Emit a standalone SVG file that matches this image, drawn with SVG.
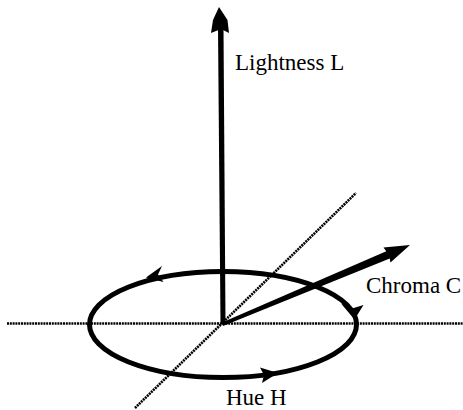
<svg xmlns="http://www.w3.org/2000/svg" width="463" height="410" viewBox="0 0 463 410">
  <style>
    .dot { stroke: #000; stroke-width: 2.6; stroke-dasharray: 2 0.8; fill: none; }
    .thick { stroke: #000; fill: none; stroke-width: 5; }
    .head { fill: #000; stroke: none; }
    .lbl { font-family: "Liberation Serif", "Times New Roman", serif; font-size: 23px; fill: #000; }
  </style>
  <rect width="463" height="410" fill="#fff"/>
  <g id="connectors">
    <line class="dot" x1="7" y1="323.5" x2="463" y2="323.5"/>
    <line class="dot" x1="135" y1="408" x2="356" y2="193"/>
    <g id="hue-circle">
      <ellipse class="thick" cx="223" cy="324.5" rx="133.5" ry="53"/>
      <polygon class="head" points="146,277.5 162,266 158,274.5 163.5,282"/>
      <polygon class="head" points="278,373 260,367.5 264,375 262,383"/>
      <polygon class="head" points="354.5,319.5 341,303.5 352,308.5 363.5,305"/>
    </g>
    <g id="lightness-axis">
      <polygon class="head" points="219,7 227.5,20 229,33 221,29 211,33 213,20"/>
      <polygon class="head" points="218,28 223.5,28 225.5,324 220.5,324"/>
    </g>
    <g id="chroma-axis">
      <polygon class="head" points="222,322.5 388,250.5 391,258 223,326"/>
      <polygon class="head" points="410,245 383.5,247.5 389,255 390.5,262.5"/>
    </g>
  </g>
  <g id="label-lightness"><text class="lbl" x="235" y="70">Lightness L</text></g>
  <g id="label-chroma"><text class="lbl" x="366" y="293">Chroma C</text></g>
  <g id="label-hue"><text class="lbl" x="226" y="405">Hue H</text></g>
</svg>
